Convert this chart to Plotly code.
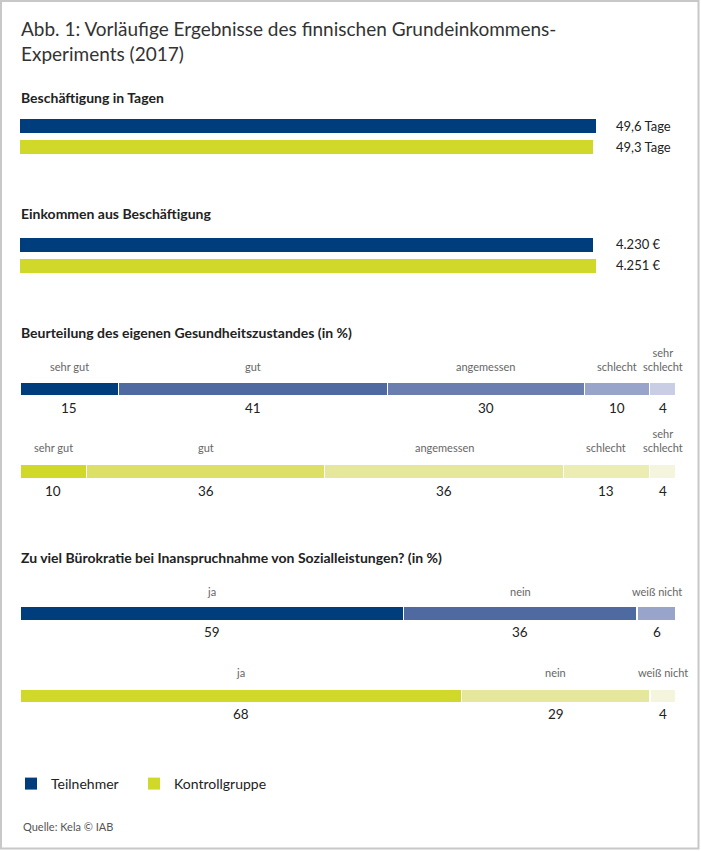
import plotly.graph_objects as go

# ---------------- data ----------------
groups = ["Teilnehmer", "Kontrollgruppe"]
days = [49.6, 49.3]
income = [4230, 4251]

health_categories = ["sehr gut", "gut", "angemessen", "schlecht", "sehr schlecht"]
health_teil = [15, 41, 30, 10, 4]
health_kontr = [10, 36, 36, 13, 4]

buro_categories = ["ja", "nein", "weiß nicht"]
buro_teil = [59, 36, 6]
buro_kontr = [68, 29, 4]

# ---------------- style ----------------
W, H = 701, 851
FONT = "Lato"
BLUE = "#003D7C"
GREEN = "#D0D82A"
health_blue = ["#003D7C", "#4E6AA0", "#6A7EAF", "#98A4CA", "#C9CEE4"]
health_green = ["#D0D82A", "#DCE066", "#E5E89C", "#EBEDB3", "#F4F5DC"]
buro_blue = ["#003D7C", "#4E6AA0", "#98A4CA"]
buro_green = ["#D0D82A", "#E5E89C", "#F4F5DC"]
DARK = "#222222"
GREY = "#666666"


def px_x(p):
    return p / W


def px_y(p):
    return 1 - p / H


fig = go.Figure()
annotations = []

# panel geometry (pixel centres of the two bars, x extent)
panels = [
    dict(c=(126, 147), x=(20, 596)),
    dict(c=(244.5, 265.5), x=(20, 596)),
    dict(c=(389, 471.5), x=(20, 676)),
    dict(c=(613.5, 696), x=(20, 676)),
]

for i, p in enumerate(panels, start=1):
    c1, c2 = p["c"]
    s = c2 - c1
    top, bot = c1 - s / 2, c2 + s / 2
    xa = "xaxis" if i == 1 else f"xaxis{i}"
    ya = "yaxis" if i == 1 else f"yaxis{i}"
    fig.layout[xa] = dict(domain=[px_x(p["x"][0]), px_x(p["x"][1])], visible=False,
                          anchor="y" if i == 1 else f"y{i}", fixedrange=True)
    fig.layout[ya] = dict(domain=[px_y(bot), px_y(top)], visible=False,
                          range=[1.5, -0.5], anchor="x" if i == 1 else f"x{i}", fixedrange=True)

# ---- panel 1: days ----
legend_ids = ["legend", "legend2"]
for j, (g, col) in enumerate(zip(groups, [BLUE, GREEN])):
    fig.add_trace(go.Bar(x=[days[j]], y=[j], orientation="h", width=0.667,
                         marker=dict(color=col, line=dict(width=0)), name=g,
                         showlegend=True, legend=legend_ids[j],
                         xaxis="x", yaxis="y", hoverinfo="skip"))
    annotations.append(dict(xref="x domain", yref="y", x=1, y=j, xanchor="left", xshift=18,
                            text=f"{days[j]:.1f}".replace(".", ",") + " Tage",
                            showarrow=False, font=dict(size=13, color=DARK)))
fig.layout.xaxis.range = [0, max(days)]

# ---- panel 2: income ----
for j, col in enumerate([BLUE, GREEN]):
    fig.add_trace(go.Bar(x=[income[j]], y=[j], orientation="h", width=0.667,
                         marker=dict(color=col, line=dict(width=0)), showlegend=False,
                         xaxis="x2", yaxis="y2", hoverinfo="skip"))
    annotations.append(dict(xref="x2 domain", yref="y2", x=1, y=j, xanchor="left", xshift=18,
                            text=f"{income[j]:,}".replace(",", ".") + " €",
                            showarrow=False, font=dict(size=13, color=DARK)))
fig.layout.xaxis2.range = [0, max(income)]


def stacked(cats, rows, colors, axn, width, label_off, value_off):
    xs = f"x{axn}"
    ys = f"y{axn}"
    pct_rows = [[v / sum(r) * 100 for v in r] for r in rows]
    for k, cat in enumerate(cats):
        fig.add_trace(go.Bar(x=[pr[k] for pr in pct_rows], y=list(range(len(rows))),
                             orientation="h", width=width,
                             marker=dict(color=[colors[j][k] for j in range(len(rows))],
                                         line=dict(color="white", width=1.2)),
                             showlegend=False, xaxis=xs, yaxis=ys, hoverinfo="skip"))
    for j, pr in enumerate(pct_rows):
        cum = 0
        for k, cat in enumerate(cats):
            mid = cum + pr[k] / 2
            cum += pr[k]
            lab = cat.replace("sehr schlecht", "sehr<br>schlecht")
            annotations.append(dict(xref=xs, yref=ys, x=mid, y=j, yanchor="bottom",
                                    yshift=label_off[j], text=lab, showarrow=False,
                                    font=dict(size=11, color=GREY)))
            annotations.append(dict(xref=xs, yref=ys, x=mid, y=j, yanchor="middle",
                                    yshift=value_off[j], text=str(rows[j][k]), showarrow=False,
                                    font=dict(size=13.5, color=DARK)))
    fig.layout[f"xaxis{axn}"].range = [0, 100]


stacked(health_categories, [health_teil, health_kontr], [health_blue, health_green], 3,
        14 / 82.5, [14, 15], [-19, -19.5])
stacked(buro_categories, [buro_teil, buro_kontr], [buro_blue, buro_green], 4,
        14 / 82.5, [14, 15], [-18.5, -18])

# ---- texts ----
annotations.append(dict(xref="paper", yref="paper", x=px_x(19), y=px_y(15), xanchor="left",
                        yanchor="top", align="left", showarrow=False,
                        text="Abb. 1: Vorläufige Ergebnisse des finnischen Grundeinkommens-<br>Experiments (2017)",
                        font=dict(size=19, color="#333333")))
headings = [
    (97, "Beschäftigung in Tagen"),
    (214, "Einkommen aus Beschäftigung"),
    (332, "Beurteilung des eigenen Gesundheitszustandes (in %)"),
    (557, "Zu viel Bürokratie bei Inanspruchnahme von Sozialleistungen? (in %)"),
]
for yy, t in headings:
    annotations.append(dict(xref="paper", yref="paper", x=px_x(19), y=px_y(yy), xanchor="left",
                            yanchor="middle", showarrow=False, text=f"<b>{t}</b>",
                            font=dict(size=14, color=DARK)))
annotations.append(dict(xref="paper", yref="paper", x=px_x(21), y=px_y(826), xanchor="left",
                        yanchor="middle", showarrow=False, text="Quelle: Kela © IAB",
                        font=dict(size=11, color="#555555")))

legend_common = dict(orientation="h", yanchor="middle", y=px_y(784),
                     font=dict(size=14, color=DARK), itemclick=False,
                     itemdoubleclick=False, bgcolor="rgba(0,0,0,0)", xanchor="left")

fig.update_layout(
    width=W, height=H, autosize=False,
    margin=dict(l=0, r=0, t=0, b=0, pad=0),
    paper_bgcolor="white", plot_bgcolor="white",
    font=dict(family=FONT, color=DARK),
    barmode="stack",
    annotations=annotations,
    showlegend=True,
    legend=dict(x=px_x(11), **legend_common),
    legend2=dict(x=px_x(134), **legend_common),
    shapes=[dict(type="rect", xref="paper", yref="paper", x0=px_x(1), x1=px_x(698.5),
                 y0=px_y(848.5), y1=px_y(1), line=dict(color="#C8C8C8", width=2),
                 fillcolor="rgba(0,0,0,0)")],
)

fig.write_html("out.html", config={"displayModeBar": False},
               post_script="document.body.style.margin='0';document.body.style.overflow='hidden';")
